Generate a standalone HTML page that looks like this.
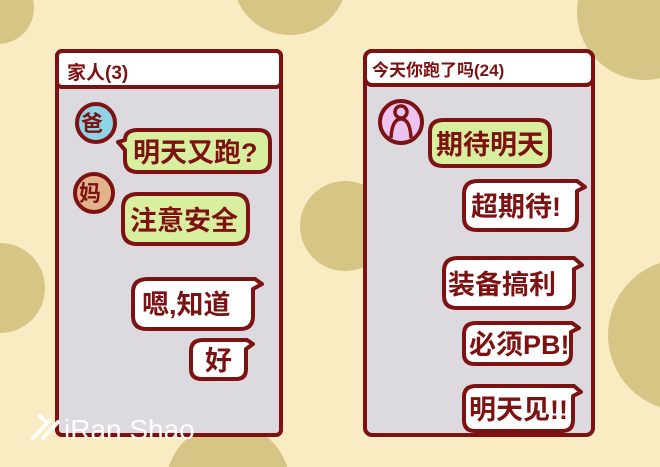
<!DOCTYPE html>
<html><head><meta charset="utf-8"><style>
html,body{margin:0;padding:0;width:660px;height:467px;overflow:hidden;background:#f9ecc3}
svg{display:block;position:fixed;left:0;top:0}
text{font-family:"Liberation Sans","Noto Sans CJK SC",sans-serif;font-weight:bold;fill:#7d1212}
</style></head><body>
<svg width="660" height="467" viewBox="0 0 660 467" xmlns="http://www.w3.org/2000/svg">
<rect width="660" height="467" fill="#f9ecc3"/>
<g fill="#d6c585">
<path d="M0 0 H33.1 A36 36 0 0 1 0 43.9 Z"/>
<path d="M237.4 0 A57 57 0 0 0 342.6 0 Z"/>
<path d="M578.1 0 H660 V78.3 A68 68 0 0 1 578.1 0 Z"/>
<path d="M0 243 A45 45 0 0 1 0 333 Z"/>
<circle cx="345" cy="226" r="45"/>
<path d="M660 262.9 A76 76 0 0 0 660 407.1 Z"/>
<path d="M168.7 467 A62 62 0 0 1 287.3 467 Z"/>
</g>
<g stroke="#7d1212" stroke-width="4" stroke-linejoin="round">
<rect x="57" y="51" width="224" height="384" rx="5" fill="#dcdadf"/>
<rect x="57" y="51" width="224" height="36" rx="5" fill="#ffffff"/>
<rect x="365" y="51" width="228" height="384" rx="7" fill="#dcdadf"/>
<rect x="365" y="51" width="228" height="34" rx="7" fill="#ffffff"/>
</g>
<text x="67" y="79" font-size="19">家人(3)</text>
<text x="372" y="76" font-size="17">今天你跑了吗(24)</text>
<g stroke="#7d1212" stroke-width="4">
<circle cx="96" cy="123" r="19" fill="#8fd3e6"/>
<circle cx="94" cy="193" r="19" fill="#e3b48c"/>
<circle cx="401" cy="122" r="21" fill="#eec2ee"/>
</g>
<text x="81" y="131" font-size="22">爸</text>
<text x="79" y="201" font-size="22">妈</text>
<g stroke="#7d1212" stroke-width="3.5" fill="none">
<circle cx="401" cy="112" r="6"/>
<path d="M391 138 Q392 119 401 119 Q410 119 411 138"/>
</g>
<g stroke="#7d1212" stroke-width="4" stroke-linejoin="round">
<path d="M138 130 H258 Q270 130 270 142 V160 Q270 172 258 172 H138 Q125 172 125 160 V150 L118 142 L125 140 Q125 130 138 130 Z" fill="#d9efa0"/>
<path d="M138 194 H234 Q248 194 248 208 V230 Q248 244 234 244 H137 Q123 244 123 230 V208 Q123 194 138 194 Z" fill="#d9efa0"/>
<path d="M148 279 H255 L262 284 L253 289 V316 Q253 329 240 329 H147 Q133 329 133 316 V292 Q133 279 148 279 Z" fill="#ffffff"/>
<path d="M203 340 H247 L253 344 L246 349 V369 Q246 379 236 379 H202 Q191 379 191 369 V351 Q191 340 203 340 Z" fill="#ffffff"/>
<path d="M444 120 H538 Q550 120 550 132 V154 Q550 166 538 166 H443 Q430 166 430 154 V132 Q430 120 444 120 Z" fill="#d9efa0"/>
<path d="M478 181 H577 L585 187 L577 191 V218 Q577 230 565 230 H477 Q464 230 464 218 V194 Q464 181 478 181 Z" fill="#ffffff"/>
<path d="M458 258 H574 L582 265 L574 269 V296 Q574 308 562 308 H457 Q444 308 444 296 V271 Q444 258 458 258 Z" fill="#ffffff"/>
<path d="M476 323 H572 L579 328 L571 332 V354 Q571 364 561 364 H475 Q464 364 464 354 V334 Q464 323 476 323 Z" fill="#ffffff"/>
<path d="M476 386 H574 L581 392 L573 396 V420 Q573 431 562 431 H475 Q464 431 464 420 V397 Q464 386 476 386 Z" fill="#ffffff"/>
</g>
<g font-size="27">
<text x="133" y="162">明天又跑?</text>
<text x="130" y="230">注意安全</text>
<text x="142" y="314">嗯,知道</text>
<text x="205" y="370">好</text>
<text x="436" y="154">期待明天</text>
<text x="471" y="216">超期待!</text>
<text x="448" y="294">装备搞利</text>
<text x="469" y="354">必须PB!</text>
<text x="469" y="419">明天见!!</text>
</g>
<g stroke="#ffffff" stroke-width="4" stroke-linecap="round" opacity="0.95">
<line x1="33" y1="438" x2="50" y2="420"/>
<line x1="43" y1="438" x2="58" y2="422"/>
<line x1="40" y1="416" x2="47" y2="423"/>
</g>
<text x="64" y="439" font-size="28" style="font-weight:normal;fill:#ffffff" opacity="0.95">iRan Shao</text>
</svg>
</body></html>
